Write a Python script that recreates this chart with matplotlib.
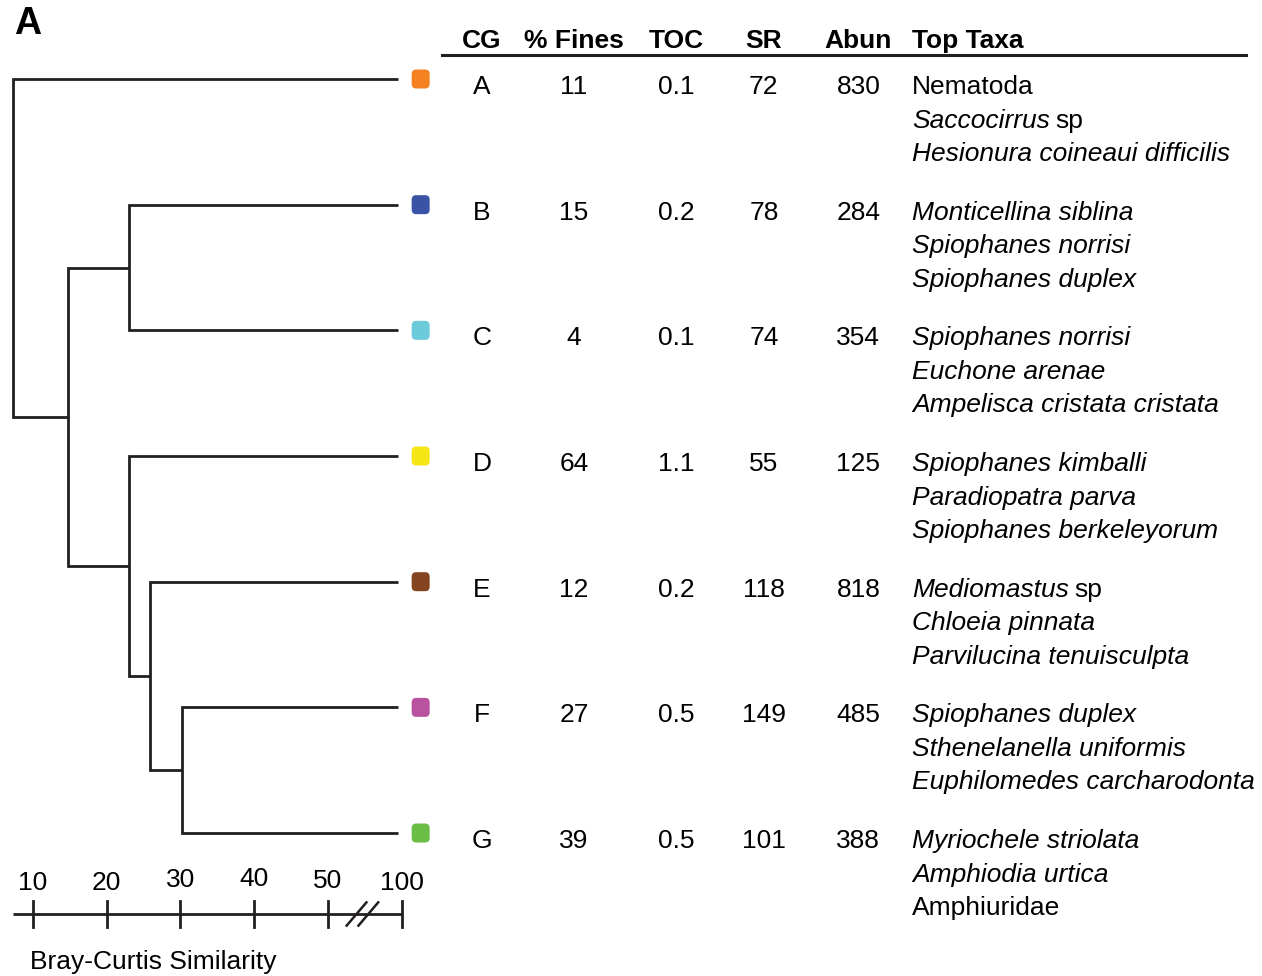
import matplotlib
matplotlib.use("Agg")
import matplotlib.pyplot as plt
from matplotlib.patches import FancyBboxPatch
import matplotlib.transforms as mtransforms

plt.rcParams['font.family'] = ['Liberation Sans', 'DejaVu Sans']

# cluster groups, top to bottom
groups = ["A", "B", "C", "D", "E", "F", "G"]
colors = ["#f58220", "#3a53a4", "#6ccbdb", "#f6e617", "#83441f", "#b9529f", "#6abd45"]
fines = ["11", "15", "4", "64", "12", "27", "39"]
toc = ["0.1", "0.2", "0.1", "1.1", "0.2", "0.5", "0.5"]
sr = ["72", "78", "74", "55", "118", "149", "101"]
abun = ["830", "284", "354", "125", "818", "485", "388"]
# (name, italic?) per taxon; None means italic genus + upright "sp"
taxa = [
    [("Nematoda", False), ("Saccocirrus|sp", None), ("Hesionura coineaui difficilis", True)],
    [("Monticellina siblina", True), ("Spiophanes norrisi", True), ("Spiophanes duplex", True)],
    [("Spiophanes norrisi", True), ("Euchone arenae", True), ("Ampelisca cristata cristata", True)],
    [("Spiophanes kimballi", True), ("Paradiopatra parva", True), ("Spiophanes berkeleyorum", True)],
    [("Mediomastus|sp", None), ("Chloeia pinnata", True), ("Parvilucina tenuisculpta", True)],
    [("Spiophanes duplex", True), ("Sthenelanella uniformis", True), ("Euphilomedes carcharodonta", True)],
    [("Myriochele striolata", True), ("Amphiodia urtica", True), ("Amphiuridae", False)],
]

# dendrogram merges: (left node, right node, Bray-Curtis similarity)
# leaves are 0..6, new nodes numbered from 7
merges = [
    (5, 6, 30.2),   # F+G -> 7
    (4, 7, 25.9),   # E+FG -> 8
    (1, 2, 23.0),   # B+C -> 9
    (3, 8, 23.0),   # D+EFG -> 10
    (9, 10, 14.7),  # BC+DEFG -> 11
    (0, 11, 7.3),   # A+rest -> 12
]

tick_vals = [10, 20, 30, 40, 50, 100]


def sim_to_x(s):
    # axis is broken between 50 and 100
    return s if s <= 50 else 60.0


fig = plt.figure(figsize=(12.62, 9.76), dpi=100)
W, H = 1262, 976
ax = fig.add_axes([0, 0, 440 / W, 1])
tab = fig.add_axes([440 / W, 0, 822 / W, 1], sharey=ax)
for a in (ax, tab):
    a.axis("off")

px_per_unit = 7.37
ax.set_xlim(10 - 33 / px_per_unit, 10 + 407 / px_per_unit)
row_px = 125.67
ax.set_ylim((H - 79) / row_px, -79 / row_px)

lw = 2.0
line_col = "#231f20"
fs = 19

# draw dendrogram
pos = {i: (sim_to_x(100) - 0.5, float(i)) for i in range(len(groups))}
for i, (a_id, b_id, s) in enumerate(merges):
    xa, ya = pos[a_id]
    xb, yb = pos[b_id]
    xs = sim_to_x(s)
    ax.plot([xa, xs, xs, xb], [ya, ya, yb, yb], color=line_col, lw=lw,
            solid_joinstyle="miter", solid_capstyle="butt")
    pos[len(groups) + i] = (xs, (ya + yb) / 2)

# colored group markers
mk_x = sim_to_x(100) + 2.6
for i, c in enumerate(colors):
    w, h = 18 / px_per_unit, 19 / row_px
    box = FancyBboxPatch((mk_x - w / 2, i - h / 2), w, h,
                         boxstyle="round,pad=0,rounding_size=0.6",
                         mutation_aspect=h / w,
                         fc=c, ec="none")
    ax.add_patch(box)

# similarity axis
axis_y = (914 - 79) / row_px
tick_h = 13 / row_px
x0 = sim_to_x(10) - 20 / px_per_unit
ax.plot([x0, sim_to_x(100)], [axis_y, axis_y], color=line_col, lw=lw,
        solid_capstyle="butt")
label_dy = [0.25, 0.25, 0.27, 0.28, 0.26, 0.25]
for v, dy in zip(tick_vals, label_dy):
    xv = sim_to_x(v)
    ax.plot([xv, xv], [axis_y - tick_h, axis_y + tick_h], color=line_col, lw=lw)
    ax.text(xv, axis_y - dy, str(v), ha="center", va="center", fontsize=fs)
# break marks
for xc in (53.9, 55.5):
    ax.plot([xc - 1.45, xc + 1.45], [axis_y + 0.1, axis_y - 0.1], color=line_col,
            lw=1.8, solid_capstyle="butt")
ax.text(x0 + 17 / px_per_unit, axis_y + 0.385, "Bray-Curtis Similarity",
        ha="left", va="center", fontsize=fs)

fig.text(14 / W, 1 - 24 / H, "A", fontsize=27, fontweight="bold", ha="left", va="center")

# table
trans = mtransforms.blended_transform_factory(tab.transAxes, tab.transData)
col_x = {"CG": 0.051, "% Fines": 0.163, "TOC": 0.288, "SR": 0.394, "Abun": 0.509}
taxa_x = 0.574
head_y = (41 - 79) / row_px
hfont = dict(fontsize=fs, fontweight="bold")
for name, xc in col_x.items():
    tab.text(xc, head_y, name, ha="center", va="center", transform=trans, **hfont)
tab.text(taxa_x, head_y, "Top Taxa", ha="left", va="center", transform=trans, **hfont)
tab.plot([0.002, 0.981], [(55 - 79) / row_px] * 2, color=line_col, lw=2.2, transform=trans)

text_off = 8 / row_px
line_gap = 33.5 / row_px
for i in range(len(groups)):
    y = i + text_off
    for key, vals in zip(col_x, (groups, fines, toc, sr, abun)):
        tab.text(col_x[key], y, vals[i], ha="center", va="center", fontsize=fs, transform=trans)
    for j, (name, ital) in enumerate(taxa[i]):
        yy = y + j * line_gap
        if ital is None:
            genus, rest = name.split("|")
            t = tab.text(taxa_x, yy, genus, ha="left", va="center", fontsize=fs,
                         style="italic", transform=trans)
            fig.canvas.draw()
            bb = t.get_window_extent()
            off = mtransforms.offset_copy(trans, fig=fig, x=bb.width + 6, units="dots")
            tab.text(taxa_x, yy, rest, ha="left", va="center", fontsize=fs, transform=off)
        else:
            tab.text(taxa_x, yy, name, ha="left", va="center", fontsize=fs,
                     style="italic" if ital else "normal", transform=trans)

fig.savefig("out.png", dpi=100)
